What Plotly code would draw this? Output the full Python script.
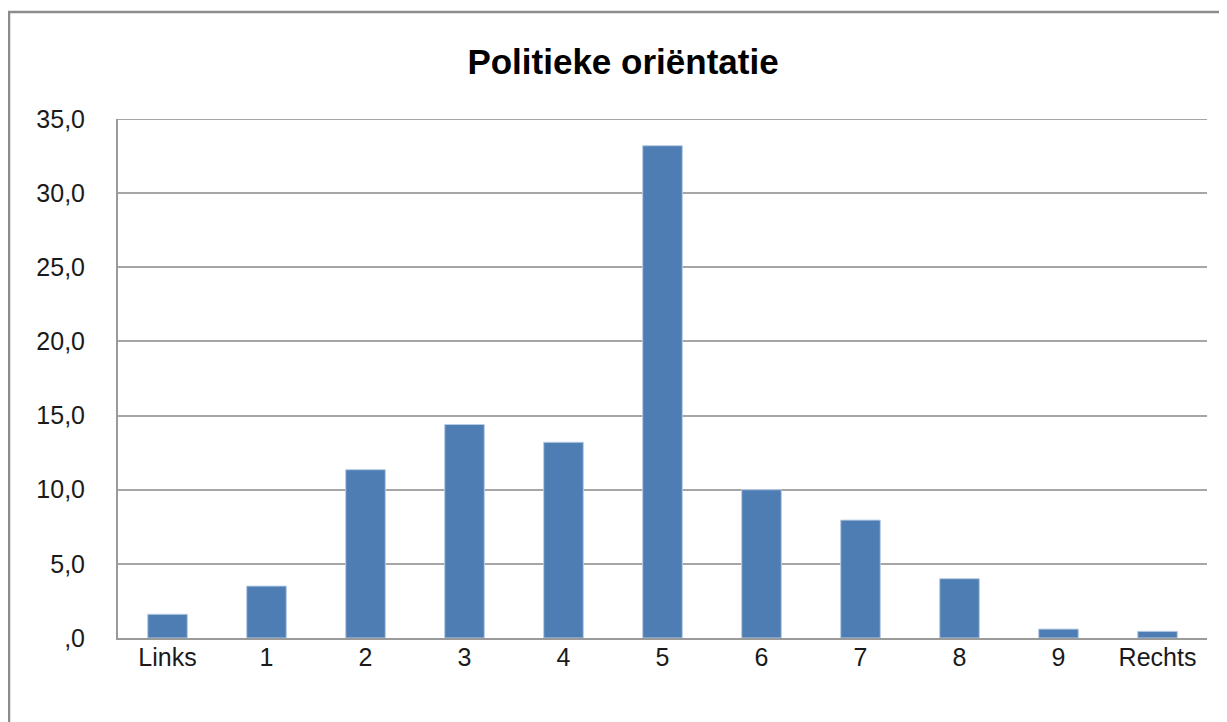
import plotly.graph_objects as go

categories = ["Links", "1", "2", "3", "4", "5", "6", "7", "8", "9", "Rechts"]
values = [1.6, 3.5, 11.35, 14.4, 13.2, 33.2, 10.0, 7.95, 4.0, 0.6, 0.45]
y_tick_vals = [0, 5, 10, 15, 20, 25, 30, 35]
y_tick_text = [",0", "5,0", "10,0", "15,0", "20,0", "25,0", "30,0", "35,0"]
title_text = "Politieke oriëntatie"

OFF = 8  # browser body margin
W, H = 1227 - OFF, 722 - OFF
L, T = 118 - OFF, 119 - OFF
R = W - (1207 - OFF)
B = H - (638 - OFF)
pw, ph = W - L - R, H - T - B

def px_x(p):
    return (p - OFF - L) / pw

def px_y(p):
    return (H - B - (p - OFF)) / ph

fig = go.Figure()
fig.add_trace(go.Bar(
    x=categories, y=values,
    marker=dict(color="#4E7DB3", line=dict(color="#b8cce4", width=1)),
    width=0.4,
))

fig.update_layout(
    width=W, height=H,
    margin=dict(l=L, r=R, t=T, b=B),
    paper_bgcolor="white", plot_bgcolor="white",
    showlegend=False,
    font=dict(family="Liberation Sans, Arial, sans-serif", color="#1a1a1a"),
    title=dict(text="<b>" + title_text + "</b>", x=(623 - OFF) / W, xanchor="center",
               y=1 - (62 - OFF) / H, yanchor="middle",
               font=dict(size=35, color="black", family="Liberation Sans, Arial, sans-serif")),
    bargap=0.6,
)
fig.update_xaxes(
    type="category", showgrid=False, showline=True, linecolor="#9a9a9a", linewidth=2,
    ticks="", tickfont=dict(size=25), ticklabelstandoff=-4,
    range=[-0.5, 10.5],
)
fig.update_yaxes(
    range=[0, 35], tickvals=y_tick_vals, ticktext=y_tick_text,
    showgrid=True, gridcolor="#a6a6a6", gridwidth=2,
    showline=True, linecolor="#9a9a9a", linewidth=2,
    ticks="", tickfont=dict(size=25), ticklabelstandoff=26,
    zeroline=False,
)
fig.add_shape(type="line", xref="paper", yref="y", x0=0, x1=1,
              y0=y_tick_vals[-1], y1=y_tick_vals[-1],
              line=dict(color="#a6a6a6", width=2), layer="below")
fig.add_shape(type="rect", xref="paper", yref="paper",
              x0=px_x(9), x1=px_x(1260), y0=px_y(760), y1=px_y(12),
              line=dict(color="#8c8c8c", width=2.5), fillcolor="rgba(0,0,0,0)", layer="above")

fig.write_html("out.html")
